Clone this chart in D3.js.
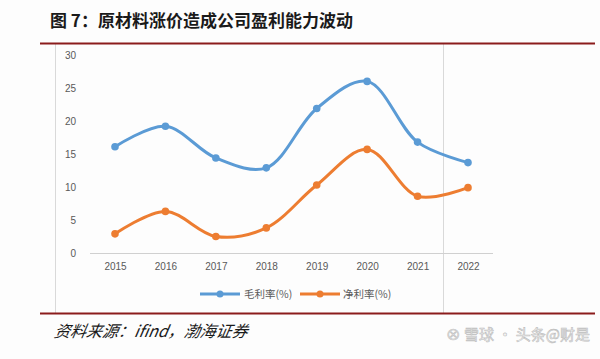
<!DOCTYPE html>
<html><head><meta charset="utf-8">
<script src="https://cdn.jsdelivr.net/npm/d3@7/dist/d3.min.js"></script>
<style>body{margin:0;background:#fff;}svg{display:block;}</style>
</head><body>
<svg id="c" width="600" height="359"></svg>
<script>
const years = ["2015","2016","2017","2018","2019","2020","2021","2022"];
const grossMargin = [16.1, 19.2, 14.4, 12.9, 21.9, 26.0, 16.8, 13.7];
const netMargin = [2.9, 6.3, 2.5, 3.8, 10.3, 15.7, 8.6, 9.9];
const yTicks = [0, 5, 10, 15, 20, 25, 30];
const seriesNames = ["毛利率(%)", "净利率(%)"];
const colors = ["#5B9BD5", "#ED7D31"];

const svg = d3.select("#c");
svg.append("rect").attr("width",600).attr("height",359).attr("fill","#fdfdfd");

// title
svg.append("text").attr("x",50).attr("y",27)
  .attr("font-family","Noto Sans CJK SC").attr("font-weight","bold").attr("font-size",17)
  .attr("fill","#1a1a1a").text("图 7：原材料涨价造成公司盈利能力波动");

// chart frame
svg.append("line").attr("x1",55.5).attr("x2",55.5).attr("y1",44).attr("y2",313).attr("stroke","#d9d9d9");
svg.append("line").attr("x1",443.5).attr("x2",443.5).attr("y1",44).attr("y2",313).attr("stroke","#d9d9d9");

// red rules
svg.append("line").attr("x1",40).attr("x2",595).attr("y1",43.5).attr("y2",43.5).attr("stroke","#8b1c1c").attr("stroke-width",2);
svg.append("line").attr("x1",40).attr("x2",595).attr("y1",313.5).attr("y2",313.5).attr("stroke","#8b1c1c").attr("stroke-width",2);

const x = d3.scalePoint().domain(years).range([115, 468]);
const y = d3.scaleLinear().domain([0,30]).range([253, 55]);

// x axis line
svg.append("line").attr("x1",90).attr("x2",493).attr("y1",253.5).attr("y2",253.5).attr("stroke","#d0d0d0");

const xAxis = d3.axisBottom(x).tickSize(0).tickPadding(10);
const gx = svg.append("g").attr("transform","translate(0,253)").call(xAxis);
gx.select(".domain").remove();
gx.selectAll("text").attr("font-family","Liberation Sans, Arial").attr("font-size",10).attr("fill","#595959");

const yAxis = d3.axisLeft(y).tickValues(yTicks).tickSize(0).tickPadding(0);
const gy = svg.append("g").attr("transform","translate(76,0)").call(yAxis);
gy.select(".domain").remove();
gy.selectAll("text").attr("font-family","Liberation Sans, Arial").attr("font-size",10).attr("fill","#595959");

const line = d3.line().x((d,i)=>x(years[i])).y(d=>y(d)).curve(d3.curveCatmullRom.alpha(0.5));
[grossMargin, netMargin].forEach((s,k)=>{
  svg.append("path").datum(s).attr("d",line).attr("fill","none")
    .attr("stroke",colors[k]).attr("stroke-width",3).attr("stroke-linecap","round");
  svg.selectAll(null).data(s).enter().append("circle")
    .attr("cx",(d,i)=>x(years[i])).attr("cy",d=>y(d)).attr("r",3.8).attr("fill",colors[k]);
});

// legend
const lg = [{x:200, tx:244},{x:300, tx:343}];
lg.forEach((p,k)=>{
  svg.append("line").attr("x1",p.x).attr("x2",p.x+40).attr("y1",294).attr("y2",294)
    .attr("stroke",colors[k]).attr("stroke-width",3);
  svg.append("circle").attr("cx",p.x+20).attr("cy",294).attr("r",3.5).attr("fill",colors[k]);
  svg.append("text").attr("x",p.tx).attr("y",298).attr("font-family","Noto Sans CJK SC").attr("font-size",10.5)
    .attr("fill","#595959").text(seriesNames[k]);
});

// source
svg.append("text").attr("x",54).attr("y",337)
  .attr("font-family","Noto Sans CJK SC").attr("font-style","italic").attr("font-size",16)
  .attr("fill","#1a1a1a").attr("transform","skewX(-10) translate(59,0)").text("资料来源：ifind，渤海证券");

// watermark
svg.append("text").attr("x",590).attr("y",340).attr("text-anchor","end")
  .attr("font-family","Noto Sans CJK SC").attr("font-size",15)
  .attr("fill","#f4f4f4").attr("stroke","#bdbdbd").attr("stroke-width",0.6).text("⊗ 雪球 · 头条@财是");
</script>
</body></html>
